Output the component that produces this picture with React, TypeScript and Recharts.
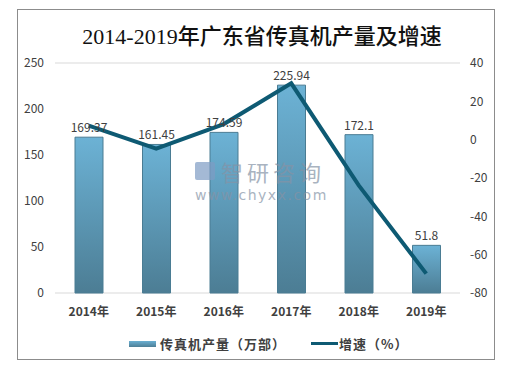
import React from "react";
import {
    ComposedChart,
    Bar,
    Line,
    XAxis,
    YAxis,
    CartesianGrid,
    LabelList
} from "recharts";

const years = ["2014年", "2015年", "2016年", "2017年", "2018年", "2019年"];
const output = [169.37, 161.45, 174.59, 225.94, 172.1, 51.8];
const growth = [7.3, -4.68, 8.14, 29.41, -23.83, -69.9];
const leftTicks = [0, 50, 100, 150, 200, 250];
const rightTicks = [-80, -60, -40, -20, 0, 20, 40];

const data = years.map((name, i) => ({
    name,
    output: output[i],
    growth: growth[i]
}));

const font = "'Noto Sans CJK SC', 'DejaVu Sans', sans-serif";

// legend drawn by hand so it doesn't eat into the plot height
const ChartLegend = () => (
    <div
        style={{
            position: "absolute",
            left: 129,
            top: 334,
            display: "flex",
            alignItems: "center",
            fontFamily: font,
            fontSize: 13,
            fontWeight: 700,
            color: "#404040",
            whiteSpace: "nowrap"
        }}
    >
        <span
            style={{
                display: "inline-block",
                width: 27,
                height: 6,
                background: "linear-gradient(#6aafd2, #4d7f96)",
                marginRight: 4
            }}
        />
        <span style={{ marginRight: 25, letterSpacing: 1 }}>传真机产量（万部）</span>
        <span
            style={{
                display: "inline-block",
                width: 27,
                height: 3,
                background: "#0e5a73",
                marginRight: 1
            }}
        />
        <span style={{ letterSpacing: 1 }}>增速（%）</span>
    </div>
);

const App = () => {
    return (
        <div style={{ position: "absolute", left: 0, top: 0, width: 524, height: 370, background: "#fff" }}>
            <div
                style={{
                    position: "absolute",
                    left: 17,
                    top: 9,
                    width: 476,
                    height: 349,
                    border: "1px solid #8c8c8c"
                }}
            />
            <div
                style={{
                    position: "absolute",
                    left: 0,
                    top: 18,
                    width: 524,
                    textAlign: "center",
                    fontFamily: "'Liberation Serif', 'Noto Sans CJK SC', serif",
                    fontSize: 22,
                    fontWeight: 500,
                    color: "#111"
                }}
            >
                2014-2019年广东省传真机产量及增速
            </div>
            <div style={{ position: "absolute", left: 0, top: 0 }}>
                <ComposedChart
                    width={524}
                    height={370}
                    data={data}
                    margin={{ top: 63, right: 24, bottom: 0, left: 0 }}
                >
                    <defs>
                        <linearGradient id="barFill" x1="0" y1="0" x2="0" y2="1">
                            <stop offset="0%" stopColor="#6cb2d5" />
                            <stop offset="100%" stopColor="#4c7d94" />
                        </linearGradient>
                    </defs>
                    <CartesianGrid vertical={false} stroke="#d9d9d9" />
                    <XAxis
                        dataKey="name"
                        axisLine={false}
                        tickLine={false}
                        tickSize={0}
                        tickMargin={14}
                        height={77}
                        tick={{ fontFamily: font, fontSize: 12, fontWeight: 700, fill: "#404040" }}
                    />
                    <YAxis
                        yAxisId="left"
                        domain={[0, 250]}
                        ticks={leftTicks}
                        width={55}
                        axisLine={false}
                        tickLine={false}
                        tickSize={0}
                        tickMargin={11}
                        tick={{ fontFamily: font, fontSize: 12, fill: "#404040" }}
                    />
                    <YAxis
                        yAxisId="right"
                        orientation="right"
                        domain={[-80, 40]}
                        ticks={rightTicks}
                        width={40}
                        axisLine={false}
                        tickLine={false}
                        tickSize={0}
                        tickMargin={10}
                        tick={{ fontFamily: font, fontSize: 12, fill: "#404040" }}
                    />
                    <Bar
                        yAxisId="left"
                        dataKey="output"
                        barSize={28}
                        fill="url(#barFill)"
                        stroke="#4a7c93"
                        strokeWidth={1}
                        isAnimationActive={false}
                    >
                        <LabelList
                            dataKey="output"
                            position="top"
                            offset={5}
                            style={{ fontFamily: font, fontSize: 12, fill: "#404040" }}
                        />
                    </Bar>
                    <Line
                        yAxisId="right"
                        dataKey="growth"
                        type="linear"
                        stroke="#0e5a73"
                        strokeWidth={4}
                        dot={false}
                        isAnimationActive={false}
                    />
                </ComposedChart>
            </div>
            <ChartLegend />
            {/* watermark */}
            <div
                style={{
                    position: "absolute",
                    left: 195,
                    top: 159,
                    width: 140,
                    color: "#8593a6",
                    opacity: 0.7,
                    pointerEvents: "none"
                }}
            >
                <div style={{ display: "flex", alignItems: "center", whiteSpace: "nowrap", height: 24 }}>
                    <span
                        style={{
                            display: "inline-block",
                            width: 20,
                            height: 18,
                            background: "#7e9cc4",
                            borderRadius: 2,
                            marginRight: 6
                        }}
                    />
                    <span style={{ fontFamily: font, fontSize: 22, letterSpacing: 4, lineHeight: "24px" }}>
                        智研咨询
                    </span>
                </div>
                <div
                    style={{
                        fontFamily: "'DejaVu Sans', sans-serif",
                        fontSize: 14,
                        letterSpacing: 1.5,
                        whiteSpace: "nowrap",
                        lineHeight: "16px",
                        marginTop: 4
                    }}
                >
                    www.chyxx.com
                </div>
            </div>
        </div>
    );
};

export default App;
